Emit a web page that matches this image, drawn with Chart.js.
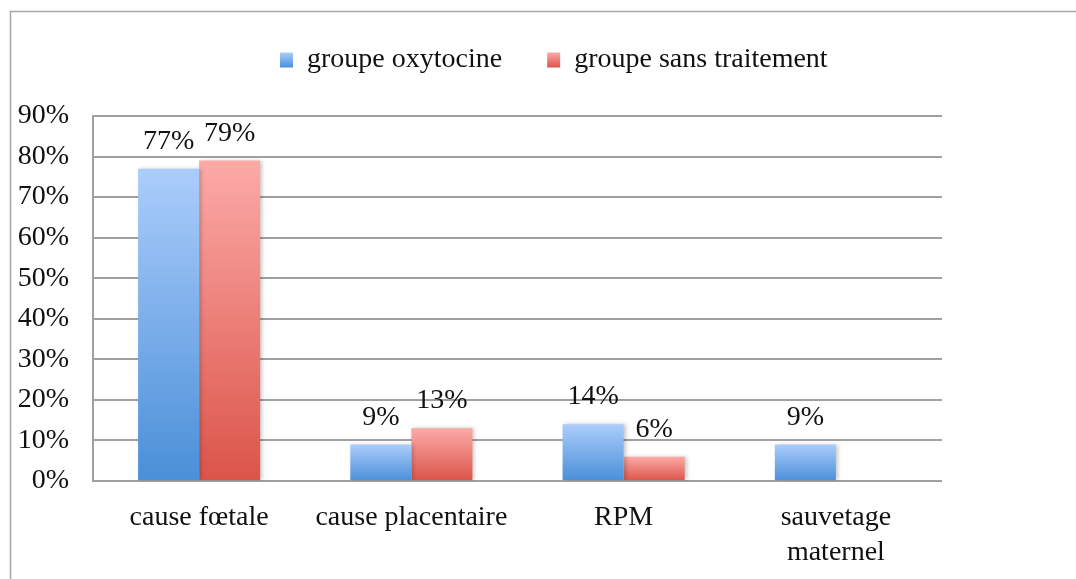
<!DOCTYPE html>
<html><head><meta charset="utf-8">
<script src="https://cdn.jsdelivr.net/npm/chart.js@4"></script>
<style>html,body{margin:0;padding:0;background:#fff}#wrap{width:1076px;height:579px;position:relative}</style>
</head><body><div id="wrap"><canvas id="c" width="1076" height="579"></canvas></div>
<script>
const categories = ['cause fœtale', 'cause placentaire', 'RPM', ['sauvetage', 'maternel']];
const seriesNames = ['groupe oxytocine', 'groupe sans traitement'];
const oxytocine = [77, 9, 14, 9];
const sansTraitement = [79, 13, 6, null];
const yMin = 0, yMax = 90, yStep = 10;

const FONT = 'Liberation Serif';
const FS = 28;
const TXT = '#111111';
const GRID = '#a0a0a0';
const LEG_COLS = [['#abcdfb', '#4a8fd8'], ['#fcaaa7', '#db5449']];
const LEG_Y = 60, BOX_W = 13, BOX_H = 15;

function grad(top, bottom) {
  return (ctx) => {
    const chart = ctx.chart;
    const { chartArea, scales } = chart;
    if (!chartArea || ctx.type !== 'data' || ctx.raw == null) return bottom;
    const y0 = scales.y.getPixelForValue(ctx.raw), y1 = scales.y.getPixelForValue(0);
    if (!isFinite(y0) || !isFinite(y1) || y0 === y1) return bottom;
    const g = chart.ctx.createLinearGradient(0, y0, 0, y1);
    g.addColorStop(0, top); g.addColorStop(1, bottom);
    return g;
  };
}

const framePlugin = {
  id: 'frame',
  beforeDraw(chart) {
    const c = chart.ctx;
    c.save();
    c.strokeStyle = '#a8a8a8'; c.lineWidth = 1.5;
    c.beginPath(); c.moveTo(10.5, chart.height); c.lineTo(10.5, 11.5); c.lineTo(chart.width, 11.5); c.stroke();
    c.restore();
  }
};

// place the legend row: first box at x=280, row centred at y=LEG_Y
const legendPlace = {
  id: 'legendPlace',
  afterLayout(chart) {
    const l = chart.legend;
    if (!l || !l.lineWidths) return;
    const p = l.options.labels.padding;
    const cur = (l.left + p + l.right - l.lineWidths[0]) / 2;
    const dx = 280 - cur;
    l.left += dx; l.right += dx;
    const ih = Math.max(FS, BOX_H);
    const dy = (LEG_Y - ih / 2 - p) - l.top;
    l.top += dy; l.bottom += dy;
  }
};

const shadowPlugin = {
  id: 'barShadow',
  beforeDatasetsDraw(chart) {
    const c = chart.ctx; c.save();
    c.shadowColor = 'rgba(0,0,0,0.22)'; c.shadowBlur = 4; c.shadowOffsetX = 2; c.shadowOffsetY = 0;
  },
  afterDatasetsDraw(chart) { chart.ctx.restore(); }
};

const labelPlugin = {
  id: 'valueLabels',
  afterDatasetsDraw(chart) {
    const c = chart.ctx;
    c.save();
    c.font = FS + 'px "' + FONT + '"';
    c.fillStyle = TXT; c.textAlign = 'center'; c.textBaseline = 'alphabetic';
    chart.data.datasets.forEach((ds, i) => {
      const meta = chart.getDatasetMeta(i);
      meta.data.forEach((bar, j) => {
        const v = ds.data[j];
        if (v == null) return;
        c.fillText(v + '%', bar.x, bar.y - 20);
      });
    });
    c.restore();
  }
};

new Chart(document.getElementById('c'), {
  type: 'bar',
  data: {
    labels: categories,
    datasets: [
      { label: seriesNames[0], data: oxytocine, backgroundColor: grad(LEG_COLS[0][0], LEG_COLS[0][1]), borderWidth: 0 },
      { label: seriesNames[1], data: sansTraitement, backgroundColor: grad(LEG_COLS[1][0], LEG_COLS[1][1]), borderWidth: 0 }
    ]
  },
  options: {
    responsive: false,
    animation: false,
    devicePixelRatio: 1,
    layout: { padding: { left: 0, right: 134, top: 33, bottom: 0 } },
    datasets: { bar: { categoryPercentage: 0.575, barPercentage: 1 } },
    plugins: {
      legend: {
        position: 'top',
        labels: {
          color: TXT, font: { family: FONT, size: FS }, boxWidth: BOX_W, boxHeight: BOX_H, padding: 45,
          generateLabels(chart) {
            const yTop = LEG_Y - BOX_H / 2;
            return chart.data.datasets.map((ds, i) => {
              const g = chart.ctx.createLinearGradient(0, yTop, 0, yTop + BOX_H);
              g.addColorStop(0, LEG_COLS[i][0]); g.addColorStop(1, LEG_COLS[i][1]);
              return {
                text: ds.label, fillStyle: g, strokeStyle: 'rgba(0,0,0,0)', lineWidth: 0,
                hidden: false, datasetIndex: i, fontColor: TXT
              };
            });
          }
        }
      },
      tooltip: { enabled: false }
    },
    scales: {
      x: {
        grid: { display: false, drawTicks: false },
        border: { display: false },
        ticks: { color: TXT, font: { family: FONT, size: FS, lineHeight: 1.22 }, padding: 20, maxRotation: 0, autoSkip: false },
        afterFit(s) { s.height = 98; }
      },
      y: {
        min: yMin, max: yMax,
        grid: { color: GRID, lineWidth: 2, drawTicks: false },
        border: { display: true, color: GRID, width: 2 },
        ticks: { stepSize: yStep, color: TXT, font: { family: FONT, size: FS }, padding: 24, callback: v => v + '%' },
        afterFit(s) { s.width = 93; }
      }
    }
  },
  plugins: [framePlugin, legendPlace, shadowPlugin, labelPlugin]
});
</script></body></html>
